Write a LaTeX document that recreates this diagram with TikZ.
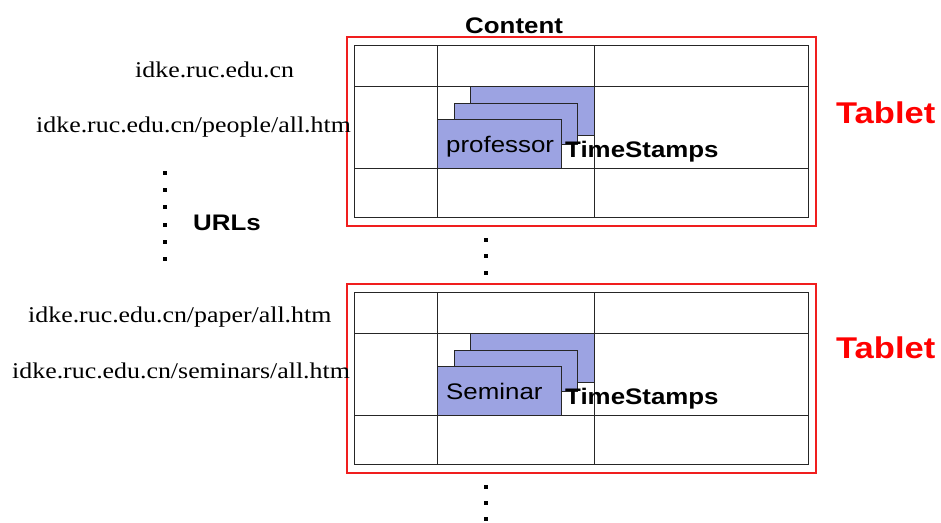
\documentclass[tikz,border=0pt]{standalone}
\usepackage{fontspec}
\usepackage{graphicx}
\setmainfont{Liberation Serif}
\setsansfont{Liberation Sans}
\definecolor{cellblue}{RGB}{156,163,226}
\definecolor{tabred}{RGB}{240,30,30}
\newcommand{\stretchtxt}[1]{\scalebox{1.15}[1]{#1}}
\tikzset{
  lbl/.style={inner sep=0pt, anchor=base west},
  url/.style={lbl, font=\rmfamily\fontsize{22.5}{26}\selectfont},
  head/.style={lbl, font=\sffamily\bfseries\fontsize{22.5}{26}\selectfont},
  cell/.style={lbl, font=\sffamily\fontsize{22.5}{26}\selectfont},
  tabname/.style={lbl, text=red, font=\sffamily\bfseries\fontsize{30}{34}\selectfont},
  frame/.style={draw=tabred, line width=1.1pt},
  gridline/.style={draw=black!85, line width=1pt},
  stamp/.style={draw=black!85, line width=0.9pt, fill=cellblue},
  dot/.style={fill=black, minimum size=4.2pt, inner sep=0pt, draw=none}
}
\begin{document}
\begin{tikzpicture}[x=1pt,y=-1pt]
\useasboundingbox (0,0) rectangle (941,522);

% one tablet: red frame, 3x3 grid, stacked timestamp versions
\foreach \dy/\word/\tag in {0/professor/a, 247/Seminar/b}{
  \begin{scope}[shift={(0,\dy)}]
    \draw[frame] (347,37) rectangle (816,226);
    \draw[gridline] (354,45) rectangle (808,217);
    \draw[gridline] (354,86) -- (808,86) (354,168) -- (808,168)
                    (437,45) -- (437,217) (594,45) -- (594,217);
    \draw[stamp] (470,86) rectangle (594,135);
    \draw[stamp] (454,103) rectangle (577,144);
    \draw[stamp] (437,119) rectangle (561,168);
    \node[cell] (cell\tag) at (446,152) {\stretchtxt{\word}};
    \node[head] (ts\tag) at (565,157) {\stretchtxt{TimeStamps}};
  \end{scope}
}

\node[head] (content) at (465,33) {\stretchtxt{Content}};
\node[tabname] (taba) at (836,123) {\stretchtxt{Tablet}};
\node[tabname] (tabb) at (836,358) {\stretchtxt{Tablet}};

% row keys
\node[url] (u1) at (135,77) {\stretchtxt{idke.ruc.edu.cn}};
\node[url] (u2) at (36,132) {\stretchtxt{idke.ruc.edu.cn/people/all.htm}};
\node[url] (u3) at (28,322) {\stretchtxt{idke.ruc.edu.cn/paper/all.htm}};
\node[url] (u4) at (12,378) {\stretchtxt{idke.ruc.edu.cn/seminars/all.htm}};
\node[head] (urls) at (193,230) {\stretchtxt{URLs}};

% ellipsis dots
\foreach \y [count=\i] in {173,190,207,225,242,259}
  \node[dot] (ld\i) at (165,\y) {};
\foreach \y [count=\i] in {240,256,273}
  \node[dot] (md\i) at (486,\y) {};
\foreach \y [count=\i] in {487,503,519}
  \node[dot] (bd\i) at (486,\y) {};
\end{tikzpicture}
\end{document}
